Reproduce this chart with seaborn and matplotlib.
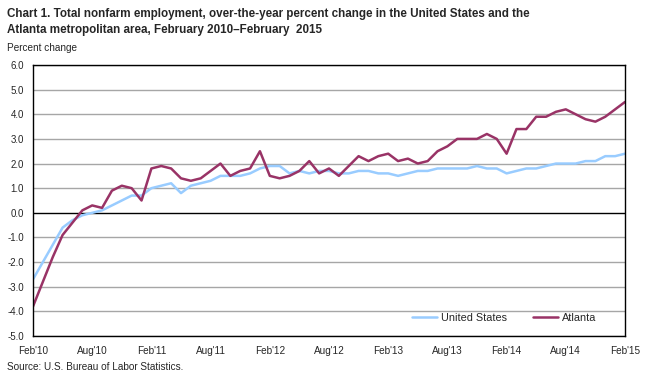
import numpy as np
import pandas as pd
import matplotlib
matplotlib.use("Agg")
import matplotlib.pyplot as plt
import seaborn as sns

# Monthly, Feb 2010 .. Feb 2015 (61 months)
us = [-2.7, -2.0, -1.3, -0.6, -0.3, -0.1, 0.0, 0.1, 0.3, 0.5,
      0.7, 0.7, 1.0, 1.1, 1.2, 0.8, 1.1, 1.2, 1.3, 1.5,
      1.5, 1.5, 1.6, 1.8, 1.9, 1.9, 1.6, 1.7, 1.6, 1.7,
      1.7, 1.6, 1.6, 1.7, 1.7, 1.6, 1.6, 1.5, 1.6, 1.7,
      1.7, 1.8, 1.8, 1.8, 1.8, 1.9, 1.8, 1.8, 1.6, 1.7,
      1.8, 1.8, 1.9, 2.0, 2.0, 2.0, 2.1, 2.1, 2.3, 2.3,
      2.4]
atlanta = [-3.8, -2.8, -1.8, -0.9, -0.4, 0.1, 0.3, 0.2, 0.9, 1.1,
           1.0, 0.5, 1.8, 1.9, 1.8, 1.4, 1.3, 1.4, 1.7, 2.0,
           1.5, 1.7, 1.8, 2.5, 1.5, 1.4, 1.5, 1.7, 2.1, 1.6,
           1.8, 1.5, 1.9, 2.3, 2.1, 2.3, 2.4, 2.1, 2.2, 2.0,
           2.1, 2.5, 2.7, 3.0, 3.0, 3.0, 3.2, 3.0, 2.4, 3.4,
           3.4, 3.9, 3.9, 4.1, 4.2, 4.0, 3.8, 3.7, 3.9, 4.2,
           4.5]
x_tick_labels = ["Feb'10", "Aug'10", "Feb'11", "Aug'11", "Feb'12", "Aug'12",
                 "Feb'13", "Aug'13", "Feb'14", "Aug'14", "Feb'15"]
series_names = ["United States", "Atlanta"]
colors = ["#99CCFF", "#993366"]

months = np.arange(len(us))
df = pd.DataFrame({
    "month": np.concatenate([months, months]),
    "value": us + atlanta,
    "series": [series_names[0]] * len(us) + [series_names[1]] * len(atlanta),
})

sns.set_theme(style="white")
plt.rcParams['font.family'] = ['Liberation Sans', 'DejaVu Sans']

fig = plt.figure(figsize=(6.54, 3.75), dpi=100)
ax = fig.add_axes([33/654, 1-336/375, (625-33)/654, (336-65)/375])

for y in range(-5, 7):
    if y == 0:
        continue
    ax.axhline(y, color="#A6A6A6", lw=1.0, zorder=0)
ax.axhline(0, color="black", lw=1.0, zorder=1)

sns.lineplot(data=df, x="month", y="value", hue="series",
             palette=dict(zip(series_names, colors)), linewidth=1.8,
             ax=ax, legend=True)

ax.set_xlim(0, len(us) - 1)
ax.set_ylim(-5, 6)
ax.set_yticks(np.arange(-5, 7, 1))
ax.set_yticklabels([f"{v:.1f}" for v in np.arange(-5, 7, 1)], fontsize=7)
ax.set_xticks(np.arange(0, len(us), 6))
ax.set_xticklabels(x_tick_labels, fontsize=7.2)
ax.tick_params(axis="y", length=0, pad=6.5)
ax.tick_params(axis="x", length=0, pad=7)
ax.set_xlabel("")
ax.set_ylabel("")
for s in ax.spines.values():
    s.set_color("black")
    s.set_linewidth(1.0)

leg = ax.legend(loc="center right", ncol=2, frameon=False, fontsize=7.8,
                handlelength=2.3, handletextpad=0.4, columnspacing=2.4,
                borderaxespad=0, bbox_to_anchor=(0.9595, 18/271))

fig.text(7/654, 1-14/375,
         "Chart 1. Total nonfarm employment, over-the-year percent change in the United States and the",
         fontsize=8.4, fontweight="bold", va="center", ha="left")
fig.text(7/654, 1-29.5/375,
         "Atlanta metropolitan area, February 2010\u2013February  2015",
         fontsize=8.4, fontweight="bold", va="center", ha="left")
fig.text(7/654, 1-48/375, "Percent change", fontsize=7.2, va="center", ha="left")
fig.text(7/654, 1-367.5/375, "Source: U.S. Bureau of Labor Statistics.", fontsize=7.2,
         va="center", ha="left")

fig.savefig("out.png", dpi=100)
